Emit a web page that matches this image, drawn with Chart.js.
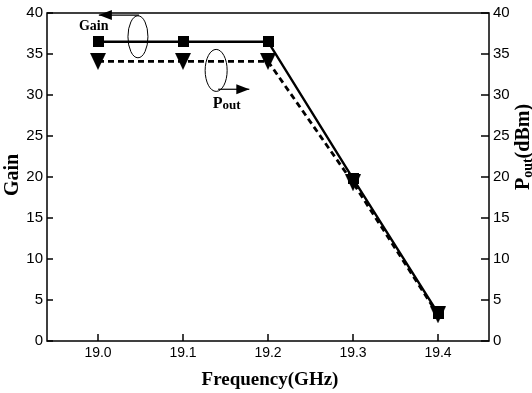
<!DOCTYPE html>
<html>
<head>
<meta charset="utf-8">
<script src="https://cdn.jsdelivr.net/npm/chart.js@4.4.0/dist/chart.umd.min.js"></script>
<style>
  html, body { margin: 0; padding: 0; background: #fff; }
  .holder { width: 532px; height: 393px; position: relative; }
</style>
</head>
<body>
<div class="holder"><canvas id="chart"></canvas></div>
<script>
const frequency = [19.0, 19.1, 19.2, 19.3, 19.4];
const gain = [36.5, 36.5, 36.5, 19.8, 3.4];
const pout = [34.1, 34.1, 34.1, 19.3, 3.2];
const yTicks = [0, 5, 10, 15, 20, 25, 30, 35, 40];

const serif = '"Liberation Serif", "DejaVu Serif", serif';
const sans = '"Liberation Sans", Arial, sans-serif';

const toPoints = (xs, ys) => xs.map((x, i) => ({ x, y: ys[i] }));

// marker images: filled square and a tall down-pointing triangle
const makeSquare = (size) => {
  const c = document.createElement('canvas');
  c.width = size; c.height = size;
  const g = c.getContext('2d');
  g.fillStyle = '#000';
  g.fillRect(0, 0, size, size);
  return c;
};

const makeTriangle = (w, h) => {
  const c = document.createElement('canvas');
  c.width = w; c.height = h;
  const g = c.getContext('2d');
  g.fillStyle = '#000';
  g.beginPath();
  g.moveTo(0, 0);
  g.lineTo(w, 0);
  g.lineTo(w / 2, h);
  g.closePath();
  g.fill();
  return c;
};

const arrow = (ctx, x1, y1, x2, y2) => {
  ctx.beginPath();
  ctx.moveTo(x1, y1);
  ctx.lineTo(x2, y2);
  ctx.stroke();
  const dir = Math.sign(x2 - x1);
  ctx.beginPath();
  ctx.moveTo(x2, y2);
  ctx.lineTo(x2 - dir * 13, y2 - 5);
  ctx.lineTo(x2 - dir * 13, y2 + 5);
  ctx.closePath();
  ctx.fill();
};

// box, inward ticks, axis titles and the Gain / Pout call-outs
const decor = {
  id: 'decor',
  afterDraw(chart) {
    const { ctx, chartArea: a, scales } = chart;
    const x = scales.x, y = scales.y, y1 = scales.y1;
    ctx.save();
    ctx.strokeStyle = '#000';
    ctx.fillStyle = '#000';
    ctx.lineWidth = 1.5;
    ctx.strokeRect(a.left, a.top, a.right - a.left, a.bottom - a.top);

    frequency.forEach((f) => {
      const px = x.getPixelForValue(f);
      ctx.beginPath(); ctx.moveTo(px, a.bottom); ctx.lineTo(px, a.bottom - 7); ctx.stroke();
    });
    yTicks.forEach((v) => {
      const py = y.getPixelForValue(v);
      ctx.beginPath(); ctx.moveTo(a.left, py); ctx.lineTo(a.left + 6, py); ctx.stroke();
      const py1 = y1.getPixelForValue(v);
      ctx.beginPath(); ctx.moveTo(a.right, py1); ctx.lineTo(a.right - 8, py1); ctx.stroke();
    });

    // axis titles
    ctx.textAlign = 'center';
    ctx.textBaseline = 'middle';
    ctx.font = 'bold 19px ' + serif;
    ctx.fillText('Frequency(GHz)', (a.left + a.right) / 2 + 2, 380);

    ctx.save();
    ctx.translate(13, (a.top + a.bottom) / 2 - 2);
    ctx.rotate(-Math.PI / 2);
    ctx.font = 'bold 20px ' + serif;
    ctx.fillText('Gain', 0, 0);
    ctx.restore();

    ctx.save();
    ctx.translate(522, 147);
    ctx.rotate(-Math.PI / 2);
    ctx.textAlign = 'left';
    ctx.textBaseline = 'alphabetic';
    ctx.font = 'bold 20px ' + serif;
    const pW = ctx.measureText('P').width;
    ctx.font = 'bold 14px ' + serif;
    const subW = ctx.measureText('out').width;
    ctx.font = 'bold 20px ' + serif;
    const restW = ctx.measureText('(dBm)').width;
    const sx = -(pW + subW + restW) / 2;
    ctx.fillText('P', sx, 7);
    ctx.font = 'bold 14px ' + serif;
    ctx.fillText('out', sx + pW, 10);
    ctx.font = 'bold 20px ' + serif;
    ctx.fillText('(dBm)', sx + pW + subW, 7);
    ctx.restore();

    // Gain call-out
    ctx.lineWidth = 1;
    let cx = x.getPixelForValue(19.047), cy = y.getPixelForValue(37.1);
    ctx.beginPath(); ctx.ellipse(cx, cy, 10, 21, 0, 0, Math.PI * 2); ctx.stroke();
    ctx.lineWidth = 1.2;
    arrow(ctx, cx + 1, y.getPixelForValue(39.75), x.getPixelForValue(19.001), y.getPixelForValue(39.75));
    ctx.font = 'bold 14px ' + serif;
    ctx.textAlign = 'center';
    ctx.fillText('Gain', x.getPixelForValue(18.995), y.getPixelForValue(38.4));

    // Pout call-out
    ctx.lineWidth = 1;
    cx = x.getPixelForValue(19.139); cy = y1.getPixelForValue(33.0);
    ctx.beginPath(); ctx.ellipse(cx, cy, 11, 21, 0, 0, Math.PI * 2); ctx.stroke();
    ctx.lineWidth = 1.2;
    arrow(ctx, cx + 2, y1.getPixelForValue(30.7), x.getPixelForValue(19.178), y1.getPixelForValue(30.7));
    ctx.textAlign = 'left';
    ctx.textBaseline = 'alphabetic';
    const tx = x.getPixelForValue(19.135), ty = y1.getPixelForValue(28.4);
    ctx.font = 'bold 16px ' + serif;
    ctx.fillText('P', tx, ty);
    const w = ctx.measureText('P').width;
    ctx.font = 'bold 13px ' + serif;
    ctx.fillText('out', tx + w, ty + 1);
    ctx.restore();
  },
};

new Chart(document.getElementById('chart'), {
  type: 'line',
  data: {
    datasets: [
      {
        label: 'Pout',
        data: toPoints(frequency, pout),
        borderColor: '#000',
        backgroundColor: '#000',
        borderWidth: 2.8,
        borderDash: [6, 4],
        pointStyle: makeTriangle(16, 17),
        pointRadius: 7,
        yAxisID: 'y1',
      },
      {
        label: 'Gain',
        data: toPoints(frequency, gain),
        borderColor: '#000',
        backgroundColor: '#000',
        borderWidth: 2.4,
        pointStyle: makeSquare(11),
        pointRadius: 6,
        yAxisID: 'y',
      },
    ],
  },
  options: {
    responsive: true,
    maintainAspectRatio: false,
    animation: false,
    events: [],
    layout: { padding: { top: 11 } },
    plugins: { legend: { display: false }, tooltip: { enabled: false } },
    scales: {
      x: {
        type: 'linear',
        min: 18.94,
        max: 19.46,
        afterBuildTicks: (s) => { s.ticks = frequency.map((v) => ({ value: v })); },
        afterFit: (s) => { s.height = 52; },
        grid: { display: false, drawTicks: false },
        border: { display: false },
        ticks: {
          padding: 4,
          color: '#000',
          font: { family: sans, size: 14 },
          callback: (v) => v.toFixed(1),
        },
      },
      y: {
        position: 'left',
        min: 0,
        max: 40,
        afterBuildTicks: (s) => { s.ticks = yTicks.map((v) => ({ value: v })); },
        afterFit: (s) => { s.width = 47; },
        grid: { display: false, drawTicks: false },
        border: { display: false },
        ticks: { padding: 4, color: '#000', font: { family: sans, size: 15 } },
      },
      y1: {
        position: 'right',
        min: 0,
        max: 40,
        afterBuildTicks: (s) => { s.ticks = yTicks.map((v) => ({ value: v })); },
        afterFit: (s) => { s.width = 43; },
        grid: { display: false, drawTicks: false },
        border: { display: false },
        ticks: { padding: 4, color: '#000', font: { family: sans, size: 15 } },
      },
    },
  },
  plugins: [decor],
});
</script>
</body>
</html>
